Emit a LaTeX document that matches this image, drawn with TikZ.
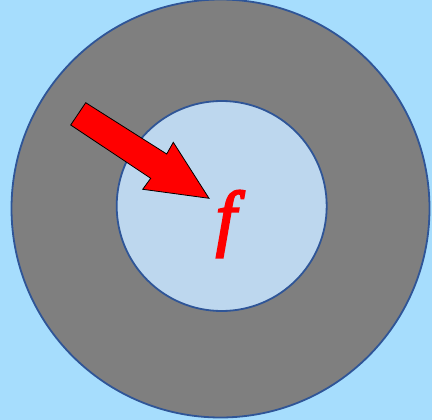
\documentclass[tikz,border=0pt]{standalone}
\usepackage{fontspec}
\setmainfont{Liberation Serif}
\newfontfamily\fbi{Liberation Serif}[BoldItalicFont={* Italic}, BoldItalicFeatures={FakeBold=3}]
\definecolor{bgblue}{HTML}{A6DDFD}
\definecolor{ringgray}{HTML}{7F7F7F}
\definecolor{edgeblue}{HTML}{2F5597}
\definecolor{innerblue}{HTML}{BDD7EE}
\tikzset{
  ring/.style={draw=edgeblue, line width=1.8pt},
  blockarrow/.style={fill=red, draw=black, line width=0.8pt, line join=miter},
}
\begin{document}
\begin{tikzpicture}[x=1pt,y=-1pt]
\fill[bgblue] (0,0) rectangle (432,420);
\useasboundingbox (0,0) rectangle (432,420);
\node[ring, fill=ringgray, circle, minimum size=418pt, inner sep=0pt] (outer) at (220.5,208.5) {};
\node[ring, fill=innerblue, circle, minimum size=210pt, inner sep=0pt] (inner) at (221.7,206) {};
\draw[blockarrow] (85.7,102.7) -- (166.7,154) -- (173.3,142.3) -- (209,198.3) -- (142.7,189.3) -- (150.7,178.3) -- (70.7,125) -- cycle;
\node[text=red, inner sep=0pt] (f) at (226,224) {\fontsize{73}{73}\selectfont\fbi\bfseries\itshape f};
\end{tikzpicture}
\end{document}
